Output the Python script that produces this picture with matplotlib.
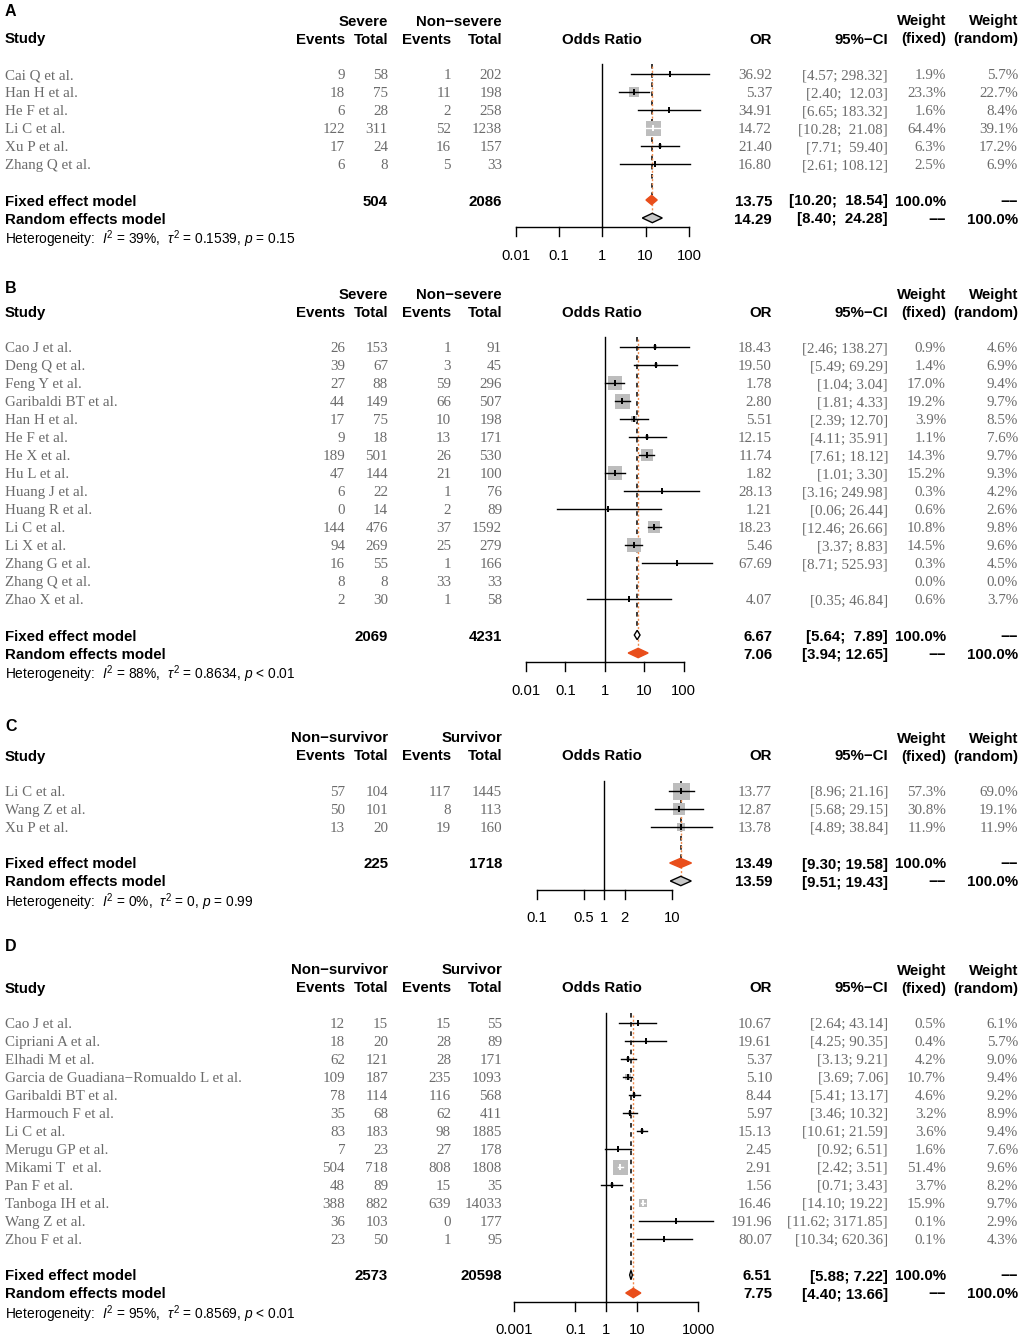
import numpy as np
import matplotlib
matplotlib.use('Agg')
import matplotlib.pyplot as plt
from matplotlib.transforms import blended_transform_factory

plt.rcParams['font.family'] = ['Liberation Sans', 'DejaVu Sans']
plt.rcParams['mathtext.fontset'] = 'custom'
plt.rcParams['mathtext.rm'] = 'Liberation Sans'
plt.rcParams['mathtext.it'] = 'Liberation Sans:italic'
plt.rcParams['mathtext.bf'] = 'Liberation Sans:bold'

W, H, DPI = 1022, 1339, 100
RH = 18  # row height in px
SERIF = ['Liberation Serif', 'DejaVu Serif']
TXT_GREY = '#6b6b6b'
ORANGE = '#e94e1b'
BOX_GREY = '#bdbdbd'
FS = 10.8
DASH2 = "\u2212\u2212"

# ---------------- panel A ----------------
studies_a = ["Cai Q et al.", "Han H et al.", "He F et al.", "Li C et al.", "Xu P et al.", "Zhang Q et al."]
ev1_a = [9, 18, 6, 122, 17, 6]
tot1_a = [58, 75, 28, 311, 24, 8]
ev2_a = [1, 11, 2, 52, 16, 5]
tot2_a = [202, 198, 258, 1238, 157, 33]
or_a = [36.92, 5.37, 34.91, 14.72, 21.40, 16.80]
lo_a = [4.57, 2.40, 6.65, 10.28, 7.71, 2.61]
hi_a = [298.32, 12.03, 183.32, 21.08, 59.40, 108.12]
wf_a = [1.9, 23.3, 1.6, 64.4, 6.3, 2.5]
wr_a = [5.7, 22.7, 8.4, 39.1, 17.2, 6.9]
fixed_a = (13.75, 10.20, 18.54)
random_a = (14.29, 8.40, 24.28)
totals_a = (504, 2086)
het_a = r"Heterogeneity:  $I^2$ = 39%,  $\tau^2$ = 0.1539, $p$ = 0.15"
ticks_a = [0.01, 0.1, 1, 10, 100]
ticklab_a = ["0.01", "0.1", "1", "10", "100"]

# ---------------- panel B ----------------
studies_b = ["Cao J et al.", "Deng Q et al.", "Feng Y et al.", "Garibaldi BT et al.", "Han H et al.",
             "He F et al.", "He X et al.", "Hu L et al.", "Huang J et al.", "Huang R et al.",
             "Li C et al.", "Li X et al.", "Zhang G et al.", "Zhang Q et al.", "Zhao X et al."]
ev1_b = [26, 39, 27, 44, 17, 9, 189, 47, 6, 0, 144, 94, 16, 8, 2]
tot1_b = [153, 67, 88, 149, 75, 18, 501, 144, 22, 14, 476, 269, 55, 8, 30]
ev2_b = [1, 3, 59, 66, 10, 13, 26, 21, 1, 2, 37, 25, 1, 33, 1]
tot2_b = [91, 45, 296, 507, 198, 171, 530, 100, 76, 89, 1592, 279, 166, 33, 58]
or_b = [18.43, 19.50, 1.78, 2.80, 5.51, 12.15, 11.74, 1.82, 28.13, 1.21, 18.23, 5.46, 67.69, None, 4.07]
lo_b = [2.46, 5.49, 1.04, 1.81, 2.39, 4.11, 7.61, 1.01, 3.16, 0.06, 12.46, 3.37, 8.71, None, 0.35]
hi_b = [138.27, 69.29, 3.04, 4.33, 12.70, 35.91, 18.12, 3.30, 249.98, 26.44, 26.66, 8.83, 525.93, None, 46.84]
wf_b = [0.9, 1.4, 17.0, 19.2, 3.9, 1.1, 14.3, 15.2, 0.3, 0.6, 10.8, 14.5, 0.3, 0.0, 0.6]
wr_b = [4.6, 6.9, 9.4, 9.7, 8.5, 7.6, 9.7, 9.3, 4.2, 2.6, 9.8, 9.6, 4.5, 0.0, 3.7]
fixed_b = (6.67, 5.64, 7.89)
random_b = (7.06, 3.94, 12.65)
totals_b = (2069, 4231)
het_b = r"Heterogeneity:  $I^2$ = 88%,  $\tau^2$ = 0.8634, $p$ < 0.01"
ticks_b = [0.01, 0.1, 1, 10, 100]
ticklab_b = ["0.01", "0.1", "1", "10", "100"]

# ---------------- panel C ----------------
studies_c = ["Li C et al.", "Wang Z et al.", "Xu P et al."]
ev1_c = [57, 50, 13]
tot1_c = [104, 101, 20]
ev2_c = [117, 8, 19]
tot2_c = [1445, 113, 160]
or_c = [13.77, 12.87, 13.78]
lo_c = [8.96, 5.68, 4.89]
hi_c = [21.16, 29.15, 38.84]
wf_c = [57.3, 30.8, 11.9]
wr_c = [69.0, 19.1, 11.9]
fixed_c = (13.49, 9.30, 19.58)
random_c = (13.59, 9.51, 19.43)
totals_c = (225, 1718)
het_c = r"Heterogeneity:  $I^2$ = 0%,  $\tau^2$ = 0, $p$ = 0.99"
ticks_c = [0.1, 0.5, 1, 2, 10]
ticklab_c = ["0.1", "0.5", "1", "2", "10"]

# ---------------- panel D ----------------
studies_d = ["Cao J et al.", "Cipriani A et al.", "Elhadi M et al.", "Garcia de Guadiana\u2212Romualdo L et al.",
             "Garibaldi BT et al.", "Harmouch F et al.", "Li C et al.", "Merugu GP et al.", "Mikami T  et al.",
             "Pan F et al.", "Tanboga IH et al.", "Wang Z et al.", "Zhou F et al."]
ev1_d = [12, 18, 62, 109, 78, 35, 83, 7, 504, 48, 388, 36, 23]
tot1_d = [15, 20, 121, 187, 114, 68, 183, 23, 718, 89, 882, 103, 50]
ev2_d = [15, 28, 28, 235, 116, 62, 98, 27, 808, 15, 639, 0, 1]
tot2_d = [55, 89, 171, 1093, 568, 411, 1885, 178, 1808, 35, 14033, 177, 95]
or_d = [10.67, 19.61, 5.37, 5.10, 8.44, 5.97, 15.13, 2.45, 2.91, 1.56, 16.46, 191.96, 80.07]
lo_d = [2.64, 4.25, 3.13, 3.69, 5.41, 3.46, 10.61, 0.92, 2.42, 0.71, 14.10, 11.62, 10.34]
hi_d = [43.14, 90.35, 9.21, 7.06, 13.17, 10.32, 21.59, 6.51, 3.51, 3.43, 19.22, 3171.85, 620.36]
wf_d = [0.5, 0.4, 4.2, 10.7, 4.6, 3.2, 3.6, 1.6, 51.4, 3.7, 15.9, 0.1, 0.1]
wr_d = [6.1, 5.7, 9.0, 9.4, 9.2, 8.9, 9.4, 7.6, 9.6, 8.2, 9.7, 2.9, 4.3]
fixed_d = (6.51, 5.88, 7.22)
random_d = (7.75, 4.40, 13.66)
totals_d = (2573, 20598)
het_d = r"Heterogeneity:  $I^2$ = 95%,  $\tau^2$ = 0.8569, $p$ < 0.01"
ticks_d = [0.001, 0.1, 1, 10, 1000]
ticklab_d = ["0.001", "0.1", "1", "10", "1000"]

fig = plt.figure(figsize=(W / DPI, H / DPI), dpi=DPI)


def ci_text(lo, hi, width):
    return "[%.2f; %*.2f]" % (lo, width, hi)


def panel(letter, letter_y, row0, one, dec, groups, studies, ev1, tot1, ev2, tot2,
          ors, lo, hi, wf, wr, fixed, rand, totals, het, ticks, ticklab,
          fixed_col, rand_col, ciw, ciw_sum, box_max):
    n = len(studies)
    rf, rr = n + 1, n + 2
    xl, xr = 500, 730
    rlo, rhi = -5.0, n + 4.8
    top = row0 + rlo * RH
    bot = row0 + rhi * RH
    ax = fig.add_axes([xl / W, 1 - bot / H, (xr - xl) / W, (bot - top) / H])
    ax.set_xscale('log')
    ax.set_xlim(10 ** ((xl - one) / dec), 10 ** ((xr - one) / dec))
    ax.set_ylim(rhi, rlo)
    ax.axis('off')
    tr = blended_transform_factory(fig.transFigure, ax.transData)

    def t(px, row, s, ha='left', **kw):
        ax.text(px / W, row, s, transform=tr, ha=ha, va='center_baseline', clip_on=False, **kw)

    bold = dict(fontsize=FS, fontweight='bold', color='black')
    ser = dict(fontsize=FS, family=SERIF, color=TXT_GREY)

    # header
    t(5, (letter_y - row0) / RH, letter, fontsize=11.5, fontweight='bold')
    t(388, -3, groups[0], ha='right', **bold)
    t(502, -3, groups[1], ha='right', **bold)
    t(946, -3, "Weight", ha='right', **bold)
    t(1018, -3, "Weight", ha='right', **bold)
    t(5, -2, "Study", **bold)
    t(345, -2, "Events", ha='right', **bold)
    t(388, -2, "Total", ha='right', **bold)
    t(451, -2, "Events", ha='right', **bold)
    t(502, -2, "Total", ha='right', **bold)
    t(602, -2, "Odds Ratio", ha='center', **bold)
    t(772, -2, "OR", ha='right', **bold)
    t(888, -2, "95%\u2212CI", ha='right', **bold)
    t(946, -2, "(fixed)", ha='right', **bold)
    t(1018, -2, "(random)", ha='right', **bold)

    # study rows
    wmax = max(wf)
    for i in range(n):
        t(5, i, studies[i], **ser)
        t(345, i, str(ev1[i]), ha='right', **ser)
        t(388, i, str(tot1[i]), ha='right', **ser)
        t(451, i, str(ev2[i]), ha='right', **ser)
        t(502, i, str(tot2[i]), ha='right', **ser)
        t(946, i, "%.1f%%" % wf[i], ha='right', **ser)
        t(1018, i, "%.1f%%" % wr[i], ha='right', **ser)
        if ors[i] is None:
            continue
        t(772, i, "%.2f" % ors[i], ha='right', **ser)
        t(888, i, ci_text(lo[i], hi[i], ciw), ha='right', **ser)
        side = box_max * np.sqrt(wf[i] / wmax)
        ax.plot([ors[i]], [i], marker='s', ms=side * 72 / DPI, mew=0, color=BOX_GREY,
                zorder=3, clip_on=False)
        ci_px = dec * (np.log10(hi[i]) - np.log10(lo[i]))
        lc = 'white' if ci_px < side - 1.0 else 'black'
        ax.plot([lo[i], hi[i]], [i, i], color=lc, lw=1.0, zorder=4, clip_on=False)
        ax.plot([ors[i]], [i], marker='|', ms=4.5, mew=1.4, color=lc, zorder=5, clip_on=False)

    # summary rows
    t(5, rf, "Fixed effect model", **bold)
    t(5, rr, "Random effects model", **bold)
    t(388, rf, str(totals[0]), ha='right', **bold)
    t(502, rf, str(totals[1]), ha='right', **bold)
    t(772, rf, "%.2f" % fixed[0], ha='right', **bold)
    t(888, rf, ci_text(fixed[1], fixed[2], ciw_sum), ha='right', **bold)
    t(946, rf, "100.0%", ha='right', **bold)
    t(1018, rf, DASH2, ha='right', **bold)
    t(772, rr, "%.2f" % rand[0], ha='right', **bold)
    t(888, rr, ci_text(rand[1], rand[2], ciw_sum), ha='right', **bold)
    t(946, rr, DASH2, ha='right', **bold)
    t(1018, rr, "100.0%", ha='right', **bold)
    t(5, rr + 1, het, fontsize=9.9, color='black')

    hd = 0.26
    for (est, l, h), r, col in ((fixed, rf, fixed_col), (rand, rr, rand_col)):
        ax.fill([l, est, h, est], [r, r - hd, r, r + hd], facecolor=col,
                edgecolor='black' if col != ORANGE else ORANGE, lw=1.0, zorder=6, clip_on=False)

    # reference lines
    ax.plot([fixed[0]] * 2, [-0.55, rf - hd], color='black', lw=1.1, ls=(0, (3, 3)), zorder=2)
    ax.plot([rand[0]] * 2, [-0.55, rr - hd], color='#f08a4b', lw=1.0, ls=(1.5, (1.5, 1.5)), zorder=2)
    ax.plot([1, 1], [-0.55, rr + 0.5], color='black', lw=1.0, zorder=2)

    # x axis
    ax.plot([ticks[0], ticks[-1]], [rr + 0.5] * 2, color='black', lw=1.0, clip_on=False)
    for tk, lab in zip(ticks, ticklab):
        ax.plot([tk, tk], [rr + 0.5, rr + 1.0], color='black', lw=1.0, clip_on=False)
        ax.text(tk, rr + 2, lab, ha='center', va='center_baseline', fontsize=10.6, clip_on=False)


panel("A", 10, 74, 602.3, 43.3, ("Severe", "Non\u2212severe"), studies_a, ev1_a, tot1_a, ev2_a, tot2_a,
      or_a, lo_a, hi_a, wf_a, wr_a, fixed_a, random_a, totals_a, het_a, ticks_a, ticklab_a,
      ORANGE, '#c8c8c8', 6, 6, 15)
panel("B", 287, 347, 604.7, 39.4, ("Severe", "Non\u2212severe"), studies_b, ev1_b, tot1_b, ev2_b, tot2_b,
      or_b, lo_b, hi_b, wf_b, wr_b, fixed_b, random_b, totals_b, het_b, ticks_b, ticklab_b,
      'white', ORANGE, 0, 5, 15)
panel("C", 725, 791, 604.3, 67.5, ("Non\u2212survivor", "Survivor"), studies_c, ev1_c, tot1_c, ev2_c, tot2_c,
      or_c, lo_c, hi_c, wf_c, wr_c, fixed_c, random_c, totals_c, het_c, ticks_c, ticklab_c,
      ORANGE, '#c8c8c8', 0, 0, 17)
panel("D", 945, 1023, 606.0, 30.7, ("Non\u2212survivor", "Survivor"), studies_d, ev1_d, tot1_d, ev2_d, tot2_d,
      or_d, lo_d, hi_d, wf_d, wr_d, fixed_d, random_d, totals_d, het_d, ticks_d, ticklab_d,
      'white', ORANGE, 0, 0, 15)

fig.savefig("out.png", dpi=DPI)
